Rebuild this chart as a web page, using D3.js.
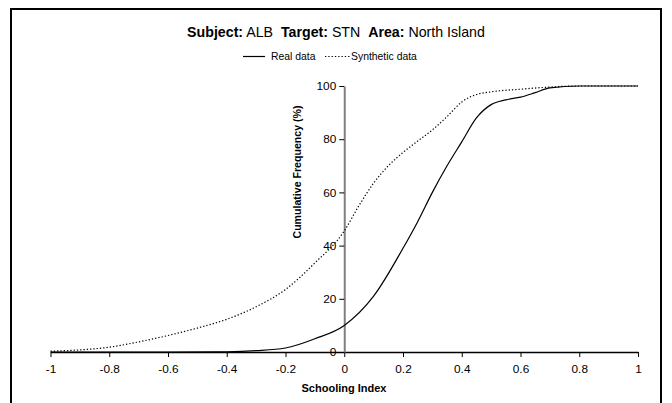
<!DOCTYPE html>
<html><head><meta charset="utf-8">
<script src="https://cdn.jsdelivr.net/npm/d3@7"></script>
<style>body{margin:0;background:#fff}svg{display:block;font-family:Arial,"Liberation Sans",sans-serif}</style>
</head><body><svg id="c" width="672" height="403"></svg>
<script>
const xTicks = [-1,-0.8,-0.6,-0.4,-0.2,0,0.2,0.4,0.6,0.8,1];
const yTicks = [0,20,40,60,80,100];
const realX = [-1,-0.8,-0.6,-0.4,-0.3,-0.2,-0.1,0,0.1,0.2,0.25,0.3,0.35,0.4,0.45,0.5,0.55,0.6,0.65,0.7,0.8,0.9,1];
const realY = [0,0,0,0.1,0.5,1.5,5,10,21,39,49,60,70,79,88,93,94.8,95.8,97.5,99.3,100,100,100];
const synX = [-1,-0.9,-0.8,-0.7,-0.6,-0.5,-0.4,-0.3,-0.2,-0.1,0,0.05,0.1,0.15,0.2,0.25,0.3,0.35,0.4,0.45,0.5,0.6,0.7,0.8,0.9,1];
const synY = [0.3,0.8,1.8,3.8,6.2,9,12.3,17,23.5,33.5,45.5,55,63.5,70,75,79.3,83.5,88.5,94,96.8,97.8,98.8,99.6,100,100,100];

const svg = d3.select("#c");
const x = d3.scaleLinear().domain([-1,1]).range([50.5,638]);
const y = d3.scaleLinear().domain([0,100]).range([352,86]);

// frame
svg.append("rect").attr("x",11).attr("y",9).attr("width",650).attr("height",420)
  .attr("fill","none").attr("stroke","#000").attr("stroke-width",2);

// title
const t = svg.append("text").attr("x",336).attr("y",36.5).attr("text-anchor","middle")
  .attr("font-size",14.2).attr("fill","#000").attr("xml:space","preserve");
t.append("tspan").attr("font-weight","bold").text("Subject:");
t.append("tspan").text(" ALB  ");
t.append("tspan").attr("font-weight","bold").text("Target:");
t.append("tspan").text(" STN  ");
t.append("tspan").attr("font-weight","bold").text("Area:");
t.append("tspan").text(" North Island");

// legend
svg.append("line").attr("x1",243).attr("x2",265).attr("y1",56.5).attr("y2",56.5).attr("stroke","#000").attr("stroke-width",1.2);
svg.append("text").attr("x",271).attr("y",60).attr("font-size",10.4).text("Real data");
svg.append("line").attr("x1",325).attr("x2",350).attr("y1",56.5).attr("y2",56.5).attr("stroke","#000").attr("stroke-width",1.2).attr("stroke-dasharray","1.3,2");
svg.append("text").attr("x",351).attr("y",60).attr("font-size",10.4).text("Synthetic data");

// x axis
const xa = svg.append("g").attr("transform",`translate(0,${y(0)})`)
  .call(d3.axisBottom(x).tickValues(xTicks).tickSize(5).tickSizeOuter(0).tickPadding(8)
     .tickFormat(d=>d3.format("")(d).replace("−","-")));
xa.select(".domain").attr("stroke","#000").attr("stroke-width",1.5);
xa.selectAll(".tick line").attr("stroke","#000");
xa.selectAll("text").attr("font-size",11.8).attr("font-family","Arial,'Liberation Sans',sans-serif").attr("fill","#000");

// y axis
const ya = svg.append("g").attr("transform",`translate(${x(0)},0)`)
  .call(d3.axisLeft(y).tickValues(yTicks).tickSize(5).tickSizeOuter(0).tickPadding(3));
ya.select(".domain").attr("stroke","#808080").attr("stroke-width",2);
ya.selectAll(".tick line").attr("stroke","#000");
ya.selectAll("text").attr("font-size",11.8).attr("font-family","Arial,'Liberation Sans',sans-serif").attr("fill","#000");

// axis titles
svg.append("text").attr("transform","translate(301,172) rotate(-90)").attr("text-anchor","middle")
  .attr("font-size",10.6).attr("font-weight","bold").text("Cumulative Frequency (%)");
svg.append("text").attr("x",344).attr("y",392).attr("text-anchor","middle")
  .attr("font-size",11).attr("font-weight","bold").text("Schooling Index");

// lines
const line = d3.line().x(d=>x(d[0])).y(d=>y(d[1])).curve(d3.curveMonotoneX);
svg.append("path").datum(synX.map((v,i)=>[v,synY[i]])).attr("d",line)
  .attr("fill","none").attr("stroke","#000").attr("stroke-width",1.2).attr("stroke-dasharray","1.3,2");
svg.append("path").datum(realX.map((v,i)=>[v,realY[i]])).attr("d",line)
  .attr("fill","none").attr("stroke","#000").attr("stroke-width",1.2);
</script></body></html>
